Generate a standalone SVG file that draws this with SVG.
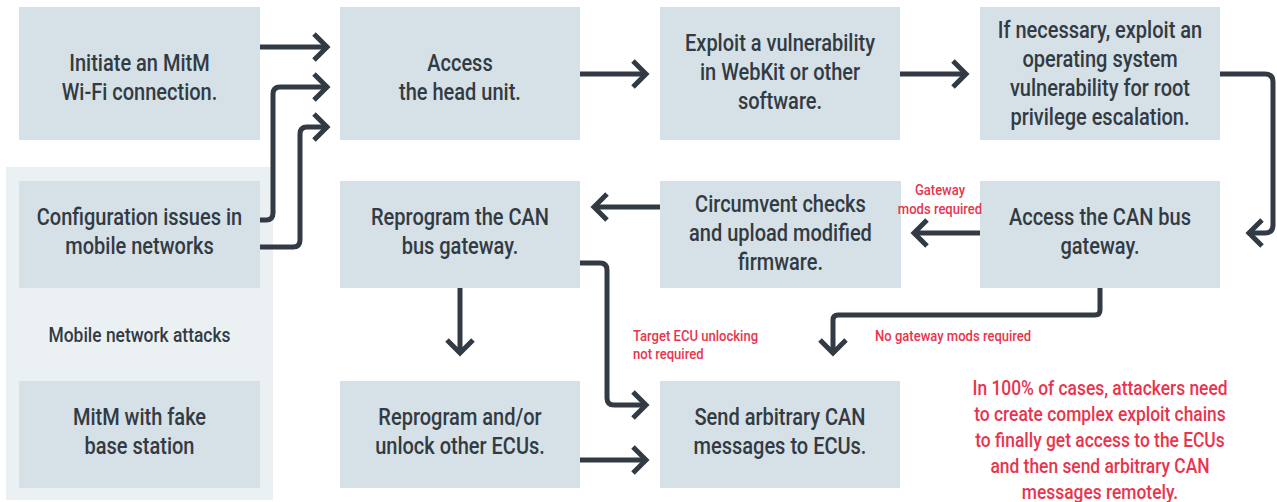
<svg xmlns="http://www.w3.org/2000/svg" width="1277" height="502" viewBox="0 0 1277 502">
<style>
.box{fill:#d6e0e7}
.t{font-family:Roboto,"Liberation Sans",sans-serif;font-size:23px;font-weight:500;fill:#323b43;text-anchor:middle;transform:scaleX(0.87);transform-box:fill-box;transform-origin:center}
.s{font-size:20px}
.r{font-family:Roboto,"Liberation Sans",sans-serif;font-weight:500;fill:#e8354e;transform:scaleX(0.87);transform-box:fill-box;transform-origin:center}
.rl{transform-origin:left center}
.c{fill:none;stroke:#323b43;stroke-width:5}
</style>
<defs>
<marker id="ah" markerUnits="userSpaceOnUse" markerWidth="40" markerHeight="40" viewBox="-20 -20 40 40" refX="0" refY="0" orient="auto" overflow="visible">
<path d="M-13,-13 L0,0 L-13,13" fill="none" stroke="#323b43" stroke-width="5"/>
</marker>
</defs>
<rect x="6" y="167" width="267" height="333" fill="#ebf0f3"/>
<g id="n1"><rect class="box" x="19" y="7" width="241" height="133"/><text class="t" x="139.5" y="71">Initiate an MitM</text><text class="t" x="139.5" y="100">Wi-Fi connection.</text></g>
<g id="n2"><rect class="box" x="340" y="7" width="240" height="133"/><text class="t" x="460" y="71">Access</text><text class="t" x="460" y="100">the head unit.</text></g>
<g id="n3"><rect class="box" x="660" y="7" width="240" height="133"/><text class="t" x="780" y="51">Exploit a vulnerability</text><text class="t" x="780" y="80">in WebKit or other</text><text class="t" x="780" y="109">software.</text></g>
<g id="n4"><rect class="box" x="980" y="7" width="240" height="133"/><text class="t" x="1100" y="38">If necessary, exploit an</text><text class="t" x="1100" y="67">operating system</text><text class="t" x="1100" y="96">vulnerability for root</text><text class="t" x="1100" y="125">privilege escalation.</text></g>
<g id="n5"><rect class="box" x="19" y="181" width="241" height="107"/><text class="t" x="139.5" y="225">Configuration issues in</text><text class="t" x="139.5" y="254">mobile networks</text></g>
<g id="n6"><rect class="box" x="340" y="181" width="240" height="107"/><text class="t" x="460" y="225">Reprogram the CAN</text><text class="t" x="460" y="254">bus gateway.</text></g>
<g id="n7"><rect class="box" x="660" y="181" width="241" height="107"/><text class="t" x="780.5" y="212">Circumvent checks</text><text class="t" x="780.5" y="241">and upload modified</text><text class="t" x="780.5" y="270">firmware.</text></g>
<g id="n8"><rect class="box" x="980" y="181" width="240" height="107"/><text class="t" x="1100" y="225">Access the CAN bus</text><text class="t" x="1100" y="254">gateway.</text></g>
<g id="lbl"><text class="t s" x="139.5" y="342">Mobile network attacks</text></g>
<g id="n9"><rect class="box" x="19" y="381" width="241" height="107"/><text class="t" x="139.5" y="425">MitM with fake</text><text class="t" x="139.5" y="454">base station</text></g>
<g id="n10"><rect class="box" x="340" y="381" width="240" height="107"/><text class="t" x="460" y="425">Reprogram and/or</text><text class="t" x="460" y="454">unlock other ECUs.</text></g>
<g id="n11"><rect class="box" x="660" y="381" width="240" height="107"/><text class="t" x="780" y="425">Send arbitrary CAN</text><text class="t" x="780" y="454">messages to ECUs.</text></g>
<g id="connectors" class="c" marker-end="url(#ah)">
<path class="c" marker-end="url(#ah)" d="M260,47 H327"/>
<path class="c" marker-end="url(#ah)" d="M260,220 H266 Q273,220 273,213 V94 Q273,87 280,87 H327"/>
<path class="c" marker-end="url(#ah)" d="M260,247 H293 Q300,247 300,240 V134 Q300,127 307,127 H327"/>
<path class="c" marker-end="url(#ah)" d="M580,74 H646"/>
<path class="c" marker-end="url(#ah)" d="M900,74 H966"/>
<path class="c" marker-end="url(#ah)" d="M1220,74 H1265 Q1273,74 1273,82 V225 Q1273,233 1265,233 H1249"/>
<path class="c" marker-end="url(#ah)" d="M980,233 H914"/>
<path class="c" marker-end="url(#ah)" d="M660,207 H594"/>
<path class="c" marker-end="url(#ah)" d="M460,288 V353"/>
<path class="c" marker-end="url(#ah)" d="M580,263 H600 Q607,263 607,270 V398 Q607,405 614,405 H646"/>
<path class="c" marker-end="url(#ah)" d="M580,460 H646"/>
<path class="c" marker-end="url(#ah)" d="M1100,288 V310 Q1100,315 1095,315 H838 Q833,315 833,320 V353"/>
</g>
<g id="labels">
<text class="r" x="940" y="195" font-size="15" text-anchor="middle">Gateway</text>
<text class="r" x="940" y="214" font-size="15" text-anchor="middle">mods required</text>
<text class="r rl" x="633" y="341" font-size="15">Target ECU unlocking</text>
<text class="r rl" x="633" y="359" font-size="15">not required</text>
<text class="r rl" x="875" y="341" font-size="15">No gateway mods required</text>
<g font-size="20" text-anchor="middle">
<text class="r" x="1100" y="395">In 100% of cases, attackers need</text>
<text class="r" x="1100" y="421">to create complex exploit chains</text>
<text class="r" x="1100" y="447">to finally get access to the ECUs</text>
<text class="r" x="1100" y="473">and then send arbitrary CAN</text>
<text class="r" x="1100" y="499">messages remotely.</text>
</g>
</g>
</svg>
